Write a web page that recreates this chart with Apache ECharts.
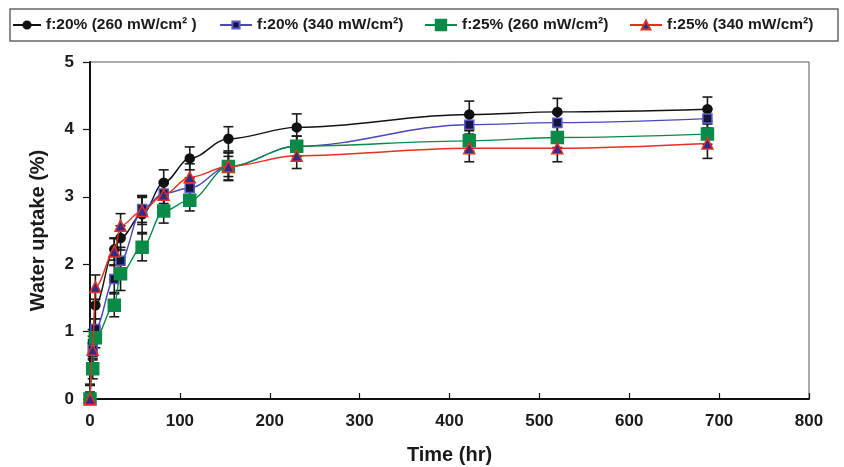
<!DOCTYPE html>
<html>
<head>
<meta charset="utf-8">
<script src="https://cdn.jsdelivr.net/npm/echarts@6/dist/echarts.min.js"></script>
<style>
  html, body { margin: 0; padding: 0; background: #fff; }
  #chart { width: 844px; height: 467px; }
</style>
</head>
<body>
<div id="chart"></div>
<script>
// Sampling times (hours)
const timeHr = [0, 3, 6, 27, 34, 58, 82, 111, 154, 230, 422, 520, 687];

// Series labels
const seriesNames = [
  'f:20% (260 mW/cm\u00B2 )',
  'f:20% (340 mW/cm\u00B2)',
  'f:25% (260 mW/cm\u00B2)',
  'f:25% (340 mW/cm\u00B2)'
];

// Water uptake (%) for each formulation / intensity
const uptake20at260 = [0, 0.83, 1.39, 2.22, 2.39, 2.74, 3.21, 3.57, 3.86, 4.03, 4.22, 4.26, 4.30];
const uptake20at340 = [0, 0.73, 1.04, 1.78, 2.05, 2.82, 3.05, 3.13, 3.45, 3.75, 4.07, 4.10, 4.16];
const uptake25at260 = [0, 0.45, 0.91, 1.39, 1.86, 2.25, 2.79, 2.95, 3.45, 3.75, 3.83, 3.88, 3.93];
const uptake25at340 = [0, 0.73, 1.66, 2.19, 2.57, 2.79, 3.03, 3.29, 3.45, 3.61, 3.72, 3.72, 3.79];

// Standard deviations (±)
const err20at260 = [0.22, 0.2, 0.2, 0.16, 0.18, 0.27, 0.19, 0.17, 0.18, 0.2, 0.2, 0.2, 0.18];
const err20at340 = [0.1, 0.15, 0.15, 0.2, 0.2, 0.2, 0.15, 0.15, 0.15, 0.15, 0.14, 0.14, 0.14];
const err25at260 = [0.1, 0.15, 0.15, 0.17, 0.25, 0.2, 0.18, 0.16, 0.2, 0.15, 0.15, 0.15, 0.15];
const err25at340 = [0.2, 0.2, 0.18, 0.2, 0.18, 0.2, 0.2, 0.2, 0.21, 0.19, 0.2, 0.2, 0.22];

// Axis ticks
const xTicks = { min: 0, max: 800, step: 100 };
const yTicks = { min: 0, max: 5, step: 1 };

const FONT = "'Liberation Sans', Arial, Helvetica, sans-serif";

const styles = [
  { line: '#111111', symbol: 'circle', size: 9, fill: '#111111', border: '#111111', legendH: 9 },
  { line: '#4848b8', symbol: 'rect', size: 9, fill: '#15153a', border: '#5a5ac8', legendH: 9 },
  { line: '#0a8a48', symbol: 'rect', size: 12, fill: '#0a8a48', border: '#0a8a48', legendH: 13 },
  { line: '#e5301f', symbol: 'triangle', size: 11, fill: '#2e2e8a', border: '#e5301f', legendH: 11 }
];

const values = [uptake20at260, uptake20at340, uptake25at260, uptake25at340];
const errors = [err20at260, err20at340, err25at260, err25at340];

function lineSeries(i) {
  const s = styles[i];
  return {
    name: seriesNames[i],
    type: 'line',
    data: timeHr.map((t, k) => [t, values[i][k]]),
    smooth: 0.35,
    smoothMonotone: 'x',
    symbol: s.symbol,
    symbolSize: s.size,
    showAllSymbol: true,
    lineStyle: { color: s.line, width: 1.4 },
    itemStyle: { color: s.fill, borderColor: s.border, borderWidth: 1.5 },
    emphasis: { disabled: true },
    z: 3 + i,
    animation: false
  };
}

// Vertical error bars with caps, drawn under the markers
function errorBars(i) {
  return {
    type: 'custom',
    data: timeHr.map((t, k) => [t, values[i][k] - errors[i][k], values[i][k] + errors[i][k]]),
    encode: { x: 0, y: [1, 2] },
    silent: true,
    z: 2,
    animation: false,
    renderItem(params, api) {
      const x = api.value(0);
      let lo = api.value(1);
      const hi = api.value(2);
      const clipped = lo < 0;
      if (clipped) lo = 0;
      const pLo = api.coord([x, lo]);
      const pHi = api.coord([x, hi]);
      const w = 5;
      const st = { stroke: '#1a1a1a', lineWidth: 1.6 };
      const children = [
        { type: 'line', shape: { x1: pLo[0], y1: pLo[1], x2: pHi[0], y2: pHi[1] }, style: st },
        { type: 'line', shape: { x1: pHi[0] - w, y1: pHi[1], x2: pHi[0] + w, y2: pHi[1] }, style: st }
      ];
      if (!clipped) {
        children.push({ type: 'line', shape: { x1: pLo[0] - w, y1: pLo[1], x2: pLo[0] + w, y2: pLo[1] }, style: st });
      }
      return { type: 'group', children };
    }
  };
}

const legendLefts = [12, 219, 424, 629];
const legendItemW = [28, 32, 32, 32];

const chart = echarts.init(document.getElementById('chart'), null, { renderer: 'canvas' });

chart.setOption({
  backgroundColor: '#ffffff',
  animation: false,
  textStyle: { fontFamily: FONT },
  grid: {
    left: 90, right: 35, top: 62, bottom: 68,
    show: true, borderColor: '#555555', borderWidth: 1,
    outerBoundsMode: 'none'
  },
  graphic: [{
    type: 'rect',
    shape: { x: 10, y: 9, width: 828, height: 32 },
    style: { fill: 'none', stroke: '#666666', lineWidth: 1.5 },
    z: 0
  }],
  legend: seriesNames.map((n, i) => ({
    data: [n],
    left: legendLefts[i],
    top: 17,
    itemWidth: legendItemW[i],
    itemHeight: styles[i].legendH,
    itemGap: 0,
    padding: 0,
    selectedMode: false,
    textStyle: { fontFamily: FONT, fontSize: 15.5, fontWeight: 'bold', color: '#1a1a1a' }
  })),
  xAxis: {
    type: 'value',
    min: xTicks.min, max: xTicks.max, interval: xTicks.step,
    name: 'Time (hr)',
    nameLocation: 'middle',
    nameGap: 46,
    nameTextStyle: { fontFamily: FONT, fontSize: 20, fontWeight: 'bold', color: '#1a1a1a' },
    axisLine: { show: true, onZero: false, lineStyle: { color: '#111111', width: 2 } },
    axisTick: { show: true, inside: true, length: 6, lineStyle: { color: '#111111', width: 1.2 } },
    axisLabel: { fontFamily: FONT, fontSize: 17, fontWeight: 'bold', color: '#1a1a1a', margin: 14 },
    splitLine: { show: false }
  },
  yAxis: {
    type: 'value',
    min: yTicks.min, max: yTicks.max, interval: yTicks.step,
    name: 'Water uptake (%)',
    nameLocation: 'middle',
    nameGap: 42,
    nameTextStyle: { fontFamily: FONT, fontSize: 20, fontWeight: 'bold', color: '#1a1a1a' },
    axisLine: { show: true, onZero: false, lineStyle: { color: '#111111', width: 2 } },
    axisTick: { show: true, inside: false, length: 7, lineStyle: { color: '#111111', width: 1.2 } },
    axisLabel: { fontFamily: FONT, fontSize: 17, fontWeight: 'bold', color: '#1a1a1a', margin: 16 },
    splitLine: { show: false }
  },
  series: [
    errorBars(0), errorBars(1), errorBars(2), errorBars(3),
    lineSeries(0), lineSeries(1), lineSeries(2), lineSeries(3)
  ]
});
</script>
</body>
</html>
